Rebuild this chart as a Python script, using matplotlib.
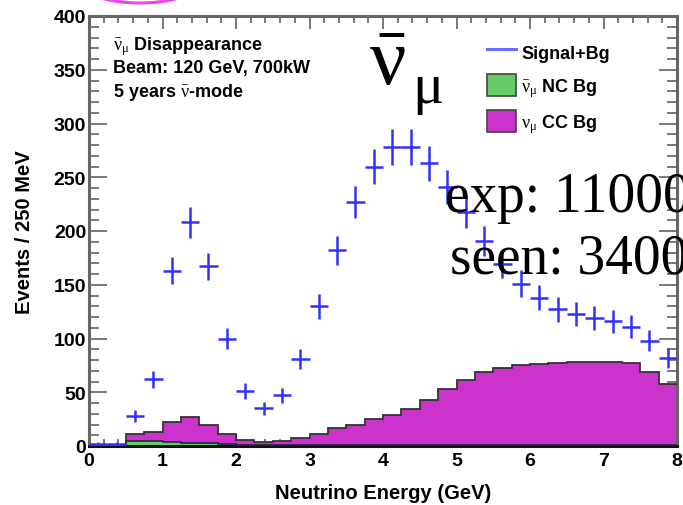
import numpy as np
import matplotlib
matplotlib.use("Agg")
import matplotlib.pyplot as plt
from matplotlib.lines import Line2D
from matplotlib.patches import Patch, Ellipse
from matplotlib.ticker import MultipleLocator

plt.rcParams['font.family'] = ['Liberation Sans', 'DejaVu Sans']
plt.rcParams['mathtext.fontset'] = 'custom'
plt.rcParams['mathtext.rm'] = 'Liberation Serif:normal'
plt.rcParams['mathtext.it'] = 'Liberation Serif:italic'
plt.rcParams['mathtext.bf'] = 'Liberation Serif:bold'

# ---------------- data ----------------
bin_edges = np.arange(0, 8.0001, 0.25)
signal_bg = [2, 2, 28, 62, 163, 208, 167, 100, 51, 35, 47, 81, 130, 182, 227, 260,
             278, 278, 263, 241, 218, 191, 169, 151, 138, 127, 123, 119, 116, 111, 98, 82]
nc_bg = [0, 0, 4.5, 4.5, 3.5, 3, 2.5, 1.5, 1.2, 1, 1, 1, 1, 1, 1, 1,
         1, 1, 1, 1, 1, 1, 1, 1, 1, 1, 1, 1, 1, 1, 1, 1]
cc_bg = [0, 0, 6.5, 8.5, 18.5, 24, 17.5, 9.5, 4.8, 3, 4, 6.5, 10, 16, 19, 23.7,
         28, 33.7, 42, 52, 60, 68, 72, 74, 75.5, 76, 77, 77, 77, 76, 68, 56.5]
x_ticks = [0, 1, 2, 3, 4, 5, 6, 7, 8]
y_ticks = [0, 50, 100, 150, 200, 250, 300, 350, 400]

W, H = 683, 506
fig = plt.figure(figsize=(W / 100, H / 100), dpi=100)
ax = fig.add_axes([89 / W, 59 / H, 588 / W, 430 / H])

nc = np.array(nc_bg)
cc = np.array(cc_bg)
sig = np.array(signal_bg, dtype=float)
centers = 0.5 * (bin_edges[:-1] + bin_edges[1:])
half = 0.5 * np.diff(bin_edges)

ax.stairs(nc, bin_edges, fill=True, color='#66cc66', zorder=2)
ax.stairs(nc, bin_edges, fill=False, color='#222244', lw=1.2, zorder=3)
ax.stairs(nc + cc, bin_edges, baseline=nc, fill=True, color='#cc33cc', zorder=2)
ax.stairs(nc + cc, bin_edges, baseline=None, fill=False, color='#333333', lw=1.3, zorder=3)

ax.errorbar(centers, sig, xerr=half, yerr=np.sqrt(sig), fmt='none',
            ecolor='#3030ff', elinewidth=1.8, capsize=0, zorder=4)

ax.set_xlim(0, 8)
ax.set_ylim(0, 400)
ax.set_xticks(x_ticks)
ax.set_yticks(y_ticks)
ax.xaxis.set_minor_locator(MultipleLocator(0.2))
ax.yaxis.set_minor_locator(MultipleLocator(10))
ax.tick_params(axis='both', which='both', direction='in', top=True, right=True,
               color='#555555', width=1.1, labelsize=14)
ax.tick_params(axis='x', which='major', length=9, pad=4)
ax.tick_params(axis='x', which='minor', length=5)
ax.tick_params(axis='y', which='major', length=13, pad=2)
ax.tick_params(axis='y', which='minor', length=7)
plt.setp(ax.get_xticklabels() + ax.get_yticklabels(), fontweight='bold')
for s in ['left', 'top', 'right']:
    ax.spines[s].set_color('#666666')
    ax.spines[s].set_linewidth(2.2)
ax.spines['bottom'].set_color('#111111')
ax.spines['bottom'].set_linewidth(2.2)

ax.set_xlabel('Neutrino Energy (GeV)', fontsize=14.5, fontweight='bold')
ax.set_ylabel('Events / 250 MeV', fontsize=14.5, fontweight='bold')
ax.xaxis.set_label_coords(0.5, (447 - 494) / 430)
ax.yaxis.set_label_coords((25 - 89) / 588, 0.5)
ax.xaxis.label.set_va('center')
ax.yaxis.label.set_va('center')

def fx(px):
    return px / W

def fy(py):
    return (H - py) / H

# top-left info text
fig.text(fx(113), fy(50), r'$\bar{\mathrm{\nu}}_{\mathrm{\mu}}$ Disappearance', fontsize=13, fontweight='bold', va='baseline')
fig.text(fx(113), fy(73), 'Beam: 120 GeV, 700kW', fontsize=13, fontweight='bold', va='baseline')
fig.text(fx(113), fy(97), r'5 years $\bar{\mathrm{\nu}}$-mode', fontsize=13, fontweight='bold', va='baseline')

# legend
handles = [Line2D([], [], color='#6a6aff', lw=2.2),
           Patch(facecolor='#66cc66', edgecolor='#444444', lw=1.2),
           Patch(facecolor='#cc33cc', edgecolor='#444444', lw=1.2)]
labels = ['Signal+Bg', r'$\bar{\mathrm{\nu}}_{\mathrm{\mu}}$ NC Bg', r'$\mathrm{\nu}_{\mathrm{\mu}}$ CC Bg']
leg = ax.legend(handles, labels, loc='upper left', bbox_to_anchor=(fx(487), fy(42)),
                bbox_transform=fig.transFigure, frameon=False,
                prop={'size': 13, 'weight': 'bold'},
                handlelength=1.6, handleheight=1.45, handletextpad=0.3,
                labelspacing=0.65, borderpad=0, borderaxespad=0)

# big overlay texts
fig.text(fx(369), fy(85), r'$\bar{\mathrm{\nu}}$', fontsize=58, va='baseline')
fig.text(fx(412), fy(103), r'$\mathrm{\mu}$', fontsize=42, va='baseline')
fig.text(fx(445), fy(212), 'exp: 11000', fontsize=40, family='Liberation Serif',
         va='baseline')
fig.text(fx(450), fy(273), 'seen: 3400', fontsize=40, family='Liberation Serif',
         va='baseline')

# magenta circle remnant at top
ell = Ellipse((fx(140), fy(-14)), 112 / W, 36 / H, transform=fig.transFigure,
              fill=False, edgecolor='#ee44ee', lw=2.2)
fig.add_artist(ell)

fig.savefig('out.png', dpi=100)
